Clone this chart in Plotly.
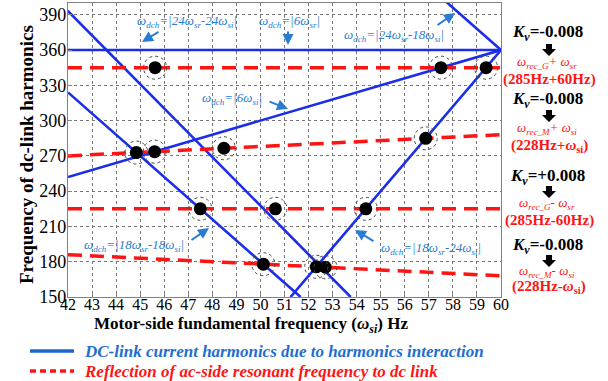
import plotly.graph_objects as go

# ---------------- data ----------------
x_ticks = list(range(42, 61))
y_ticks = [150, 180, 210, 240, 270, 300, 330, 360, 390]

# DC-link current harmonic lines (endpoints)
h_6sr_x = [42, 60];          h_6sr_y = [360, 360]
h_6si_x = [42, 60];          h_6si_y = [252, 360]
h_24sr24si_x = [41.67, 53.75]; h_24sr24si_y = [400, 150]
h_24sr18si_x = [57.5, 60];   h_24sr18si_y = [405, 360]
h_18sr18si_x = [42, 51.67];  h_18sr18si_y = [324, 150]
h_18sr24si_x = [51.25, 60];  h_18sr24si_y = [150, 360]

# Reflected ac-side resonant frequency lines
r_G_plus_x = [42, 60];   r_G_plus_y = [345, 345]
r_M_plus_x = [42, 60];   r_M_plus_y = [270, 288]
r_G_minus_x = [42, 60];  r_G_minus_y = [225, 225]
r_M_minus_x = [42, 60];  r_M_minus_y = [186, 168]

# intersection points
dots_x = [45.62, 57.5, 59.38, 44.84, 45.6, 48.48, 56.87, 47.5, 50.62, 54.38, 50.12, 52.32, 52.7]
dots_y = [345, 345, 345, 272.8, 273.6, 276.5, 284.9, 225, 225, 225, 177.9, 175.7, 175.3]

# ---------------- figure ----------------
W, H = 608, 381
L, R, T, B = 68, 501, 3, 297
def px(x):
    return (x - L) / (R - L)
def py(y):
    return (B - y) / (B - T)

BLUE = "rgb(25,45,235)"
RED = "rgb(255,20,20)"
TBLUE = "rgb(40,125,210)"
SERIF = "Liberation Serif"

fig = go.Figure()

for xs, ys in [(h_6sr_x, h_6sr_y), (h_6si_x, h_6si_y), (h_24sr24si_x, h_24sr24si_y),
               (h_24sr18si_x, h_24sr18si_y), (h_18sr18si_x, h_18sr18si_y), (h_18sr24si_x, h_18sr24si_y)]:
    fig.add_trace(go.Scatter(x=xs, y=ys, mode="lines", line=dict(color=BLUE, width=2.6),
                             showlegend=False, hoverinfo="skip"))

for xs, ys in [(r_G_plus_x, r_G_plus_y), (r_M_plus_x, r_M_plus_y),
               (r_G_minus_x, r_G_minus_y), (r_M_minus_x, r_M_minus_y)]:
    fig.add_trace(go.Scatter(x=xs, y=ys, mode="lines",
                             line=dict(color=RED, width=3.5, dash="14px,8px"),
                             showlegend=False, hoverinfo="skip"))

fig.add_trace(go.Scatter(x=dots_x, y=dots_y, mode="markers",
                         marker=dict(color="black", size=13, line=dict(width=0)),
                         showlegend=False, hoverinfo="skip"))

shapes = []
for xd, yd in zip(dots_x, dots_y):
    shapes.append(dict(type="circle", xref="x", yref="y", xsizemode="pixel", ysizemode="pixel",
                       xanchor=xd, yanchor=yd, x0=-11.5, x1=11.5, y0=-11.5, y1=11.5,
                       line=dict(color="rgb(70,70,70)", width=1, dash="dot")))

# legend samples
shapes.append(dict(type="line", xref="paper", yref="paper", x0=px(30), x1=px(74), y0=py(351), y1=py(351),
                   line=dict(color="rgb(30,100,210)", width=3.5)))
shapes.append(dict(type="line", xref="paper", yref="paper", x0=px(30), x1=px(74), y0=py(371), y1=py(371),
                   line=dict(color=RED, width=3.5, dash="6px,4px")))

annotations = []
def text(x, y, s, size, color, xanchor="center", font=SERIF):
    annotations.append(dict(x=px(x), y=py(y), xref="paper", yref="paper", text=s, showarrow=False,
                            xanchor=xanchor, yanchor="middle", font=dict(family=font, size=size, color=color)))

def arrow(x0, y0, x1, y1):
    annotations.append(dict(x=px(x1), y=py(y1), xref="paper", yref="paper", ax=x0 - x1, ay=y0 - y1,
                            text="", showarrow=True, arrowhead=2,
                            arrowsize=1.1, arrowwidth=2, arrowcolor=TBLUE, standoff=0))

w = "<i>ω</i>"
text(187, 22, f"<i>{w}<sub>dch</sub>=|24{w}<sub>sr</sub>-24{w}<sub>si</sub>|</i>", 13, TBLUE)
arrow(160, 31, 142, 42)
text(289, 22, f"<i>{w}<sub>dch</sub>=|6{w}<sub>sr</sub>|</i>", 13, TBLUE)
arrow(288, 30, 288, 45)
text(394, 35, f"<i>{w}<sub>dch</sub>=|24{w}<sub>sr</sub>-18{w}<sub>si</sub>|</i>", 13, TBLUE)
arrow(436, 26, 455, 13)
text(232, 98, f"<i>{w}<sub>dch</sub>=|6{w}<sub>si</sub>|</i>", 13, TBLUE)
arrow(268, 101, 288, 109)
text(134, 245, f"<i>{w}<sub>dch</sub>=|18{w}<sub>sr</sub>-18{w}<sub>si</sub>|</i>", 13, TBLUE)
arrow(190, 241, 209, 228)
text(431, 248, f"<i>{w}<sub>dch</sub>=|18{w}<sub>sr</sub>-24{w}<sub>si</sub>|</i>", 13, TBLUE)
arrow(375, 242, 355, 230)

# right side notes: (Kv y, arrow y, omega y, Hz y)
groups = [
    ((33, 50, 62, 80), "-0.008", f"<i>{w}<sub>rec_G</sub>+ {w}<sub>sr</sub></i>", "(285Hz+60Hz)"),
    ((100, 116, 128, 146), "-0.008", f"<i>{w}<sub>rec_M</sub>+ {w}<sub>si</sub></i>", f"(228Hz+{w}<sub>si</sub>)"),
    ((177, 192, 203, 220), "+0.008", f"<i>{w}<sub>rec_G</sub>- {w}<sub>sr</sub></i>", "(285Hz-60Hz)"),
    ((246, 261, 271, 287), "-0.008", f"<i>{w}<sub>rec_M</sub>- {w}<sub>si</sub></i>", f"(228Hz-{w}<sub>si</sub>)"),
]
cx = 549
for (yk, ya, yo, yh), kv, om, hz in groups:
    text(cx - 2, yk, f"<b><i>K<sub>v</sub></i>={kv}</b>", 17, "black")
    pts = [(cx - 3, ya - 6), (cx + 3, ya - 6), (cx + 3, ya - 1), (cx + 7, ya - 1), (cx, ya + 6),
           (cx - 7, ya - 1), (cx - 3, ya - 1)]
    path = "M " + " L ".join(f"{px(a)},{py(b)}" for a, b in pts) + " Z"
    shapes.append(dict(type="path", xref="paper", yref="paper", path=path,
                       fillcolor="black", line=dict(width=0)))
    text(cx - 2, yo, om, 13, RED)
    text(cx, yh, f"<b>{hz}</b>", 15, RED)

# axis titles
text(251, 325, f"<b>Motor-side fundamental frequency (<i>ω<sub>si</sub></i>) Hz</b>", 17, "black")
annotations.append(dict(x=px(26), y=py(155), xref="paper", yref="paper", xanchor="center", yanchor="middle",
                        text="<b>Frequency of dc-link harmonics</b>", showarrow=False, textangle=-90,
                        font=dict(family=SERIF, size=19, color="black")))

# legend texts
text(82, 351, "<b><i>DC-link current harmonics due to harmonics interaction</i></b>", 17,
     "rgb(30,110,210)", xanchor="left")
text(82, 371, "<b><i>Reflection of ac-side resonant frequency to dc link</i></b>", 17, RED, xanchor="left")

fig.update_layout(
    width=W, height=H, margin=dict(l=L, r=W - R, t=T, b=H - B),
    plot_bgcolor="white", paper_bgcolor="white",
    font=dict(family=SERIF),
    shapes=shapes, annotations=annotations,
    xaxis=dict(range=[42, 60], tickvals=x_ticks, ticktext=[str(v) for v in x_ticks],
               showgrid=True, gridcolor="rgb(120,120,120)", griddash="dot", gridwidth=1,
               showline=True, linecolor="rgb(130,130,130)", linewidth=1.2, mirror=True,
               ticks="inside", ticklen=4, tickcolor="rgb(130,130,130)", zeroline=False,
               ticklabelstandoff=-7,
               tickfont=dict(family=SERIF, size=16, color="black")),
    yaxis=dict(range=[150, 400], tickvals=y_ticks,
               showgrid=True, gridcolor="rgb(120,120,120)", griddash="dot", gridwidth=1,
               showline=True, linecolor="rgb(130,130,130)", linewidth=1.2, mirror=True,
               ticks="inside", ticklen=4, tickcolor="rgb(130,130,130)", zeroline=False,
               ticklabelstandoff=-3,
               tickfont=dict(family=SERIF, size=18, color="black")),
)

fig.write_html("out.html")
